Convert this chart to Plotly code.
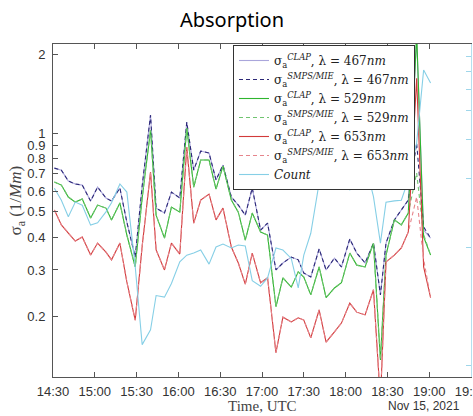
import math
import plotly.graph_objects as go

# ---------------- data ----------------
times = ["14:31", "14:36", "14:41", "14:46", "14:51", "14:57", "15:02", "15:08", "15:12", "15:18",
         "15:23", "15:29", "15:34", "15:40", "15:44", "15:50", "15:55", "16:01", "16:06", "16:11",
         "16:16", "16:22", "16:27", "16:32", "16:38", "16:43", "16:48", "16:53", "16:59", "17:04",
         "17:10", "17:15", "17:21", "17:26", "17:30", "17:35", "17:41", "17:46", "17:52", "17:57",
         "18:03", "18:08", "18:14", "18:20", "18:25", "18:29", "18:35", "18:40", "18:45", "18:51",
         "18:56", "19:01"]
date = "2021-11-15"

clap_467 = [0.735, 0.722, 0.656, 0.639, 0.633, 0.550, 0.622, 0.565, 0.550, 0.617,
            0.457, 0.336, 0.628, 1.171, 0.517, 0.495, 0.595, 0.565, 1.101, 0.722,
            0.854, 0.839, 0.662, 0.755, 0.570, 0.531, 0.486, 0.617, 0.426, 0.453,
            0.300, 0.319, 0.336, 0.328, 0.292, 0.282, 0.361, 0.300, 0.333, 0.308,
            0.394, 0.348, 0.319, 0.380, 0.241, 0.380, 0.466, 0.508, 0.555, 2.300,
            0.426, 0.397]
smps_467 = [0.735, 0.722, 0.656, 0.639, 0.633, 0.550, 0.622, 0.565, 0.550, 0.617,
            0.457, 0.336, 0.628, 1.171, 0.517, 0.495, 0.595, 0.565, 1.101, 0.722,
            0.854, 0.839, 0.662, 0.755, 0.570, 0.531, 0.486, 0.617, 0.426, 0.453,
            0.300, 0.319, 0.336, 0.328, 0.292, 0.282, 0.361, 0.300, 0.333, 0.308,
            0.394, 0.348, 0.319, 0.380, 0.241, 0.380, 0.466, 0.508, 0.555, 0.916,
            0.438, 0.397]
clap_529 = [0.650, 0.633, 0.570, 0.545, 0.560, 0.474, 0.531, 0.517, 0.466, 0.541,
            0.408, 0.308, 0.565, 1.027, 0.486, 0.397, 0.522, 0.499, 1.045, 0.622,
            0.789, 0.789, 0.611, 0.748, 0.555, 0.499, 0.390, 0.495, 0.419, 0.408,
            0.217, 0.280, 0.258, 0.295, 0.282, 0.241, 0.308, 0.235, 0.256, 0.268,
            0.348, 0.313, 0.308, 0.380, 0.136, 0.342, 0.466, 0.446, 0.495, 2.400,
            0.401, 0.342]
smps_529 = [0.650, 0.633, 0.570, 0.545, 0.560, 0.474, 0.531, 0.517, 0.466, 0.541,
            0.408, 0.308, 0.565, 1.027, 0.486, 0.397, 0.522, 0.499, 1.045, 0.622,
            0.789, 0.789, 0.611, 0.748, 0.555, 0.499, 0.390, 0.495, 0.419, 0.408,
            0.217, 0.280, 0.258, 0.295, 0.282, 0.241, 0.308, 0.235, 0.256, 0.268,
            0.348, 0.313, 0.308, 0.380, 0.136, 0.342, 0.466, 0.446, 0.495, 0.704,
            0.410, 0.342]
clap_653 = [0.508, 0.446, 0.415, 0.387, 0.401, 0.342, 0.380, 0.351, 0.328, 0.380,
            0.270, 0.193, 0.370, 0.710, 0.358, 0.300, 0.380, 0.345, 0.884, 0.453,
            0.555, 0.585, 0.466, 0.517, 0.367, 0.319, 0.265, 0.348, 0.268, 0.280,
            0.145, 0.198, 0.190, 0.197, 0.193, 0.165, 0.211, 0.159, 0.174, 0.188,
            0.224, 0.207, 0.202, 0.252, 0.095, 0.322, 0.342, 0.364, 0.419, 1.620,
            0.308, 0.235]
smps_653 = [0.508, 0.446, 0.415, 0.387, 0.401, 0.342, 0.380, 0.351, 0.328, 0.380,
            0.270, 0.193, 0.370, 0.710, 0.358, 0.300, 0.380, 0.345, 0.884, 0.453,
            0.555, 0.585, 0.466, 0.517, 0.367, 0.319, 0.265, 0.348, 0.268, 0.280,
            0.145, 0.198, 0.190, 0.197, 0.193, 0.165, 0.211, 0.159, 0.174, 0.188,
            0.224, 0.207, 0.202, 0.252, 0.095, 0.322, 0.342, 0.364, 0.419, 0.570,
            0.330, 0.235]
count = [1820, 1610, 1360, 1580, 1530, 1250, 1280, 1430, 1570, 1900,
         1750, 820, 370, 430, 610, 600, 690, 860, 920, 940,
         970, 840, 1000, 1030, 990, 1020, 1010, 710, 670, 730,
         990, 970, 890, 660, 920, 1150, 1920, 2350, 2080, 1840,
         1790, 2310, 2350, 1670, 1040, 1580, 1600, 1610, 1980, 2890,
         6070, 5320]

y_ticks = [0.2, 0.3, 0.4, 0.5, 0.6, 0.7, 0.8, 0.9, 1, 2]
y_ticklabels = ["0.2", "0.3", "0.4", "0.5", "0.6", "0.7", "0.8", "0.9", "1", "2"]
y2_ticks = [300, 1000, 2000, 3000, 4000, 5000, 6000, 7000]

# ---------------- figure ----------------
xs = [f"{date} {t}" for t in times]

def lab(wl, kind):
    return f"σ<sub>a</sub><sup><i>{kind}</i></sup>, λ = {wl}<i>nm</i>"

series = [
    (lab(467, "CLAP"), clap_467, "#aaa6db", "solid"),
    (lab(467, "SMPS/MIE"), smps_467, "#2c2877", "4px,3px"),
    (lab(529, "CLAP"), clap_529, "#2eb52e", "solid"),
    (lab(529, "SMPS/MIE"), smps_529, "#70c470", "4px,3px"),
    (lab(653, "CLAP"), clap_653, "#d23a3a", "solid"),
    (lab(653, "SMPS/MIE"), smps_653, "#e6858c", "4px,3px"),
]

fig = go.Figure()
for name, ys, col, dash in series:
    fig.add_trace(go.Scatter(x=xs, y=ys, mode="lines", name=name,
                             line=dict(color=col, width=1.1, dash=dash)))
fig.add_trace(go.Scatter(x=xs, y=count, mode="lines", name="<i>Count</i>", yaxis="y2",
                         line=dict(color="#86cfe6", width=1.1)))

W, H = 473, 416
L, R, T, B = 53, 2, 44, 39
pw, ph = W - L - R, H - T - B
axc = "#555555"
tickfont = dict(family="Liberation Sans, Arial, sans-serif", size=13, color="#333333")

fig.update_layout(
    width=W, height=H,
    margin=dict(l=L, r=R, t=T, b=B, pad=0),
    paper_bgcolor="white", plot_bgcolor="white",
    template="none",
    showlegend=True,
    title=dict(text="Absorption", x=232 / W, xref="container", xanchor="center",
               y=1 - 20 / H, yref="container", yanchor="middle",
               font=dict(family="Noto Sans, sans-serif", size=20, color="#000000")),
    xaxis=dict(type="date",
               range=[f"{date} 14:30", f"{date} 19:30"],
               tick0=f"{date} 14:30", dtick=1800000, tickformat="%H:%M",
               ticks="inside", ticklen=5, tickcolor=axc, tickwidth=1,
               showline=True, linecolor=axc, linewidth=1, mirror="ticks",
               showgrid=False, zeroline=False, automargin=False,
               ticklabeloverflow="allow", ticklabelstandoff=2, tickfont=tickfont),
    yaxis=dict(type="log",
               range=[math.log10(0.117), math.log10(2.19)],
               tickvals=y_ticks, ticktext=y_ticklabels,
               ticks="inside", ticklen=5, tickcolor=axc, tickwidth=1,
               showline=True, linecolor=axc, linewidth=1, mirror=False,
               showgrid=False, zeroline=False, automargin=False,
               ticklabelstandoff=4, tickfont=tickfont),
    yaxis2=dict(type="log", overlaying="y", side="right",
                range=[math.log10(266), math.log10(7910)],
                tickvals=y2_ticks, showticklabels=False,
                ticks="inside", ticklen=5, tickcolor="#9fd6ea", tickwidth=1,
                showline=True, linecolor="#b4e0ef", linewidth=1,
                showgrid=False, zeroline=False, automargin=False),
    legend=dict(x=(233 - L) / pw, y=1 - 1 / ph, xanchor="left", yanchor="top",
                bgcolor="white", bordercolor="#333333", borderwidth=1,
                font=dict(family="DejaVu Serif, Liberation Serif, serif", size=12, color="#222222"),
                tracegroupgap=0, itemwidth=30),
    annotations=[
        dict(text="σ<sub>a</sub> (1/<i>Mm</i>)", textangle=-90,
             xref="paper", yref="paper", x=(17 - L) / pw, y=0.53,
             xanchor="center", yanchor="middle", showarrow=False,
             font=dict(family="Liberation Serif, serif", size=17, color="#444444")),
        dict(text="Time, UTC", xref="paper", yref="paper", x=0.5, y=-(406 - (H - B)) / ph,
             xanchor="center", yanchor="middle", showarrow=False,
             font=dict(family="Liberation Serif, serif", size=15, color="#444444")),
        dict(text="Nov 15, 2021", xref="paper", yref="paper", x=(424 - L) / pw,
             y=-(406 - (H - B)) / ph, xanchor="center", yanchor="middle", showarrow=False,
             font=dict(family="Liberation Sans, Arial, sans-serif", size=12, color="#333333")),
    ],
)

fig.write_html("out.html", config={"displayModeBar": False},
               post_script="document.body.style.margin='0px';")
